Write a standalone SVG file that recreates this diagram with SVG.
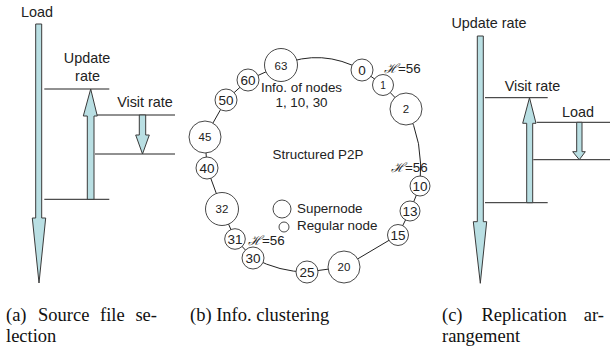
<svg xmlns="http://www.w3.org/2000/svg" width="613" height="350" viewBox="0 0 613 350">
<style>
.lbl{font-family:"Liberation Sans",Arial,sans-serif;font-size:14.4px;fill:#222}
.lb{font-family:"Liberation Sans",Arial,sans-serif;font-size:13.4px;fill:#222}
.cap{font-family:"Liberation Serif","Times New Roman",serif;font-size:18.5px;fill:#111}
.arr{fill:#b9dfe3;stroke:#3a3a3a;stroke-width:1}
.ln{stroke:#222;stroke-width:1;fill:none}
.nd{fill:#fff;stroke:#333;stroke-width:0.9}
.ns{font-family:"Liberation Sans",Arial,sans-serif;font-size:13.5px;fill:#222;text-anchor:middle}
.nl{font-family:"Liberation Sans",Arial,sans-serif;font-size:11.5px;fill:#222;text-anchor:middle}
.h{font-family:"DejaVu Serif",serif;font-style:italic;font-size:13px}
.m{text-anchor:middle}
</style>
<rect width="613" height="350" fill="#fff"/>

<!-- Panel (a) -->
<g id="panel-a">
  <text class="lbl m" x="37" y="17">Load</text>
  <polygon class="arr" points="35.7,24 41.7,24 41.7,218 45.7,218 39,283 32.3,218 35.7,218"/>
  <line class="ln" x1="44.3" y1="89" x2="109.3" y2="89"/>
  <line class="ln" x1="44.3" y1="199.3" x2="109.3" y2="199.3"/>
  <line class="ln" x1="96.7" y1="115" x2="175" y2="115"/>
  <line class="ln" x1="95" y1="154" x2="175" y2="154"/>
  <text class="lbl m" x="87" y="63">Update</text>
  <text class="lbl m" x="87.5" y="81">rate</text>
  <polygon class="arr" points="87.3,199.3 94,199.3 94,116 97.3,116 90.7,89 83.3,116 87.3,116"/>
  <text class="lbl m" x="145" y="107">Visit rate</text>
  <polygon class="arr" points="139.3,115 145.7,115 145.7,135 149.3,135 142.5,154 135.7,135 139.3,135"/>
</g>

<!-- Panel (b) connectors -->
<g id="connectors">
  <path class="ln" d="M281,65 Q322,48 362,70"/>
  <line class="ln" x1="362" y1="70" x2="383" y2="85"/>
  <line class="ln" x1="383" y1="85" x2="406" y2="109"/>
  <path class="ln" d="M406,109 Q424,140 420,186"/>
  <line class="ln" x1="420" y1="186" x2="410" y2="211"/>
  <line class="ln" x1="410" y1="211" x2="398" y2="235"/>
  <line class="ln" x1="398" y1="235" x2="344" y2="267"/>
  <line class="ln" x1="344" y1="267" x2="307" y2="272"/>
  <path class="ln" d="M307,272 Q280,272 253,258"/>
  <line class="ln" x1="253" y1="258" x2="235" y2="239"/>
  <line class="ln" x1="235" y1="239" x2="222" y2="209"/>
  <line class="ln" x1="222" y1="209" x2="207" y2="168"/>
  <line class="ln" x1="207" y1="168" x2="205" y2="137"/>
  <line class="ln" x1="205" y1="137" x2="226" y2="100"/>
  <line class="ln" x1="226" y1="100" x2="248" y2="80"/>
  <line class="ln" x1="248" y1="80" x2="281" y2="65"/>
</g>

<!-- Panel (b) nodes -->
<g id="n63"><circle class="nd" cx="281" cy="65" r="16.5"/><text class="nl" x="281" y="69.5">63</text></g>
<g id="n0"><circle class="nd" cx="362" cy="70" r="11"/><text class="ns" x="362" y="75">0</text></g>
<g id="n1"><circle class="nd" cx="383" cy="85" r="10.5"/><text class="nl" x="383" y="89" style="font-size:10px">1</text></g>
<g id="n2"><circle class="nd" cx="406" cy="109" r="16"/><text class="nl" x="406" y="113">2</text></g>
<g id="n10"><circle class="nd" cx="420" cy="186" r="10"/><text class="ns" x="420" y="191">10</text></g>
<g id="n13"><circle class="nd" cx="410" cy="211" r="10"/><text class="ns" x="410" y="216">13</text></g>
<g id="n15"><circle class="nd" cx="398" cy="235" r="10.5"/><text class="ns" x="398" y="240">15</text></g>
<g id="n20"><circle class="nd" cx="344" cy="267" r="16"/><text class="nl" x="344" y="271">20</text></g>
<g id="n25"><circle class="nd" cx="307" cy="272" r="11"/><text class="ns" x="307" y="277">25</text></g>
<g id="n30"><circle class="nd" cx="253" cy="258" r="11"/><text class="ns" x="253" y="263">30</text></g>
<g id="n31"><circle class="nd" cx="235" cy="239" r="10.3"/><text class="ns" x="235" y="244">31</text></g>
<g id="n32"><circle class="nd" cx="222" cy="209" r="16.5"/><text class="nl" x="222" y="213">32</text></g>
<g id="n40"><circle class="nd" cx="207" cy="168" r="11"/><text class="ns" x="207" y="173">40</text></g>
<g id="n45"><circle class="nd" cx="205" cy="137" r="16"/><text class="nl" x="205" y="141">45</text></g>
<g id="n50"><circle class="nd" cx="226" cy="100" r="11"/><text class="ns" x="226" y="105">50</text></g>
<g id="n60"><circle class="nd" cx="248" cy="80" r="11"/><text class="ns" x="248" y="85">60</text></g>

<g id="panel-b-labels">
  <text class="lb" x="384" y="73"><tspan class="h">ℋ</tspan>=56</text>
  <text class="lb" x="391" y="172"><tspan class="h">ℋ</tspan>=56</text>
  <text class="lb" x="248" y="245"><tspan class="h">ℋ</tspan>=56</text>
  <text class="lb m" x="301.5" y="91.5">Info. of nodes</text>
  <text class="lb m" x="301.5" y="107">1, 10, 30</text>
  <text class="lb m" x="318" y="158.5">Structured P2P</text>
</g>
<g id="legend">
  <circle class="nd" cx="282" cy="209" r="9"/>
  <circle class="nd" cx="284" cy="227" r="5"/>
  <text class="lb" x="297" y="213">Supernode</text>
  <text class="lb" x="297" y="230">Regular node</text>
</g>

<!-- Panel (c) -->
<g id="panel-c">
  <text class="lbl m" x="489" y="28">Update rate</text>
  <polygon class="arr" points="477.3,36 483.3,36 483.3,221.7 486.7,221.7 480.3,283.3 473.3,221.7 477.3,221.7"/>
  <line class="ln" x1="485" y1="97.7" x2="547.7" y2="97.7"/>
  <line class="ln" x1="485" y1="202.7" x2="547.7" y2="202.7"/>
  <line class="ln" x1="536.7" y1="122.3" x2="610" y2="122.3"/>
  <line class="ln" x1="533.3" y1="159.7" x2="610" y2="159.7"/>
  <text class="lbl m" x="532.5" y="90.5">Visit rate</text>
  <polygon class="arr" points="526.7,202.7 532.7,202.7 532.7,123.3 536,123.3 529.5,97.7 522.7,123.3 526.7,123.3"/>
  <text class="lbl m" x="578" y="116.5">Load</text>
  <polygon class="arr" points="576.7,122.3 582,122.3 582,151.7 585.3,151.7 579.3,159.7 572.7,151.7 576.7,151.7"/>
</g>

<!-- Captions -->
<g id="captions">
  <text class="cap" x="6" y="321">(a)</text>
  <text class="cap" x="38" y="321">Source</text>
  <text class="cap" x="100" y="321">file</text>
  <text class="cap" x="157" y="321" text-anchor="end">se-</text>
  <text class="cap" x="6" y="342">lection</text>
  <text class="cap" x="190" y="321">(b) Info. clustering</text>
  <text class="cap" x="442" y="321">(c)</text>
  <text class="cap" x="481.5" y="321">Replication</text>
  <text class="cap" x="604" y="321" text-anchor="end">ar-</text>
  <text class="cap" x="442" y="342">rangement</text>
</g>
</svg>
